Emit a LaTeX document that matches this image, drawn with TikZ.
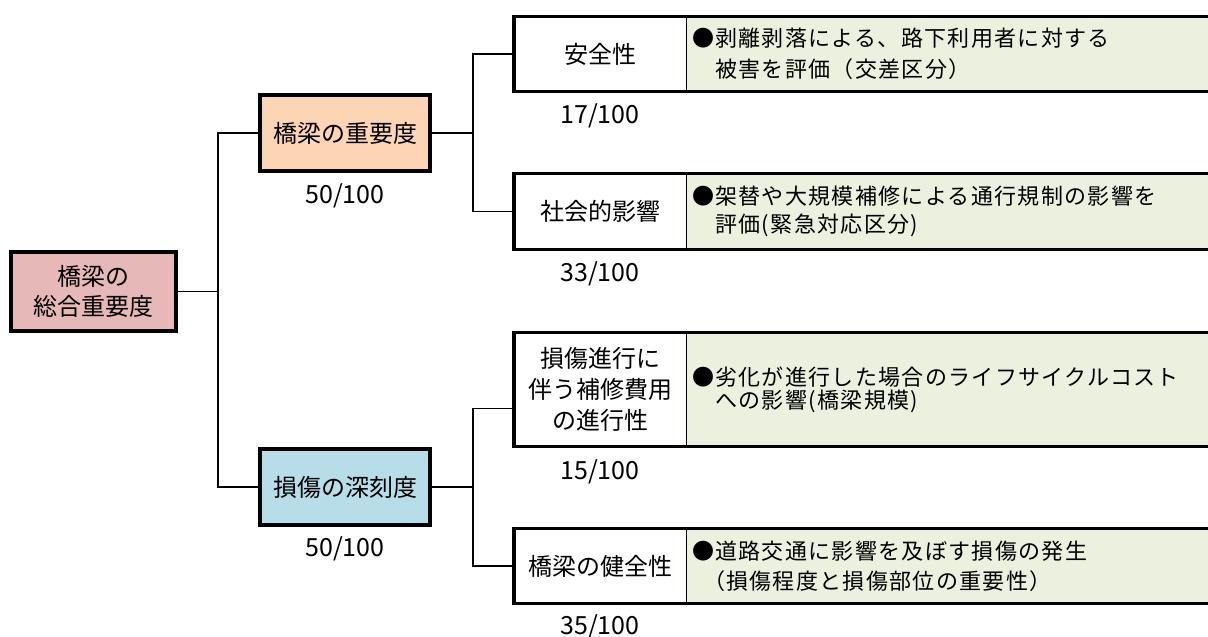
\documentclass[tikz,border=0pt]{standalone}
\usepackage{fontspec}
\setmainfont{Noto Sans CJK JP}
\newfontfamily\descfont[LetterSpace=6]{Noto Sans CJK JP}
\definecolor{rootpink}{RGB}{230,185,184}
\definecolor{midpeach}{RGB}{252,213,181}
\definecolor{midblue}{RGB}{183,222,232}
\definecolor{descgreen}{RGB}{235,240,223}

\begin{document}
\begin{tikzpicture}[x=1pt, y=-1pt, line width=1.5pt,
root node/.style={rectangle,draw,line width=3.5pt,fill=rootpink,minimum width=165pt,minimum height=79pt,inner sep=0pt,align=center,font=\fontsize{24}{30}\selectfont},
mid node/.style={rectangle,draw,line width=3.5pt,minimum width=170pt,minimum height=76pt,inner sep=0pt,font=\fontsize{24}{30}\selectfont},
item node/.style={rectangle,draw,fill=white,minimum width=173pt,inner sep=0pt,outer sep=0pt,align=center,font=\fontsize{24}{31}\selectfont},
desc node/.style={rectangle,fill=descgreen,anchor=west,minimum width=523pt,text width=513pt,inner xsep=5pt,inner ysep=0pt,outer sep=0pt,align=left,font=\descfont\fontsize{22}{30}\selectfont},
score/.style={inner sep=0pt,font=\fontsize{25}{30}\selectfont},
cell frame/.style={line width=3.5pt}]
\useasboundingbox (0,0) rectangle (1208,637);
\begin{scope}
\node[root node] (root) at (93.5,291.5) {橋梁の\\総合重要度};
\node[mid node,fill=midpeach] (m1) at (345,133) {橋梁の重要度};
\node[mid node,fill=midblue] (m2) at (345,487) {損傷の深刻度};
\node[score] (w1) at (345,196) {50/100};
\node[score] (w2) at (345,549) {50/100};
\end{scope}
\begin{scope}
\node[item node,minimum height=75pt] (s1) at (600.5,54) {安全性};
\node[desc node,minimum height=75pt,font=\descfont\fontsize{22}{31}\selectfont] (d1) at (s1.east) {●剥離剥落による、路下利用者に対する\\　被害を評価（交差区分）};
\node[item node,minimum height=76pt] (s2) at (600.5,211.5) {社会的影響};
\node[desc node,minimum height=76pt,font=\descfont\fontsize{22}{28}\selectfont] (d2) at (s2.east) {●架替や大規模補修による通行規制の影響を\\　評価(緊急対応区分)};
\node[item node,minimum height=114pt] (s3) at (600.5,389.5) {損傷進行に\\伴う補修費用\\の進行性};
\node[desc node,minimum height=114pt,font=\descfont\fontsize{22}{23}\selectfont] (d3) at (s3.east) {●劣化が進行した場合のライフサイクルコスト\\　への影響(橋梁規模)};
\node[item node,minimum height=75pt] (s4) at (600.5,566) {橋梁の健全性};
\node[desc node,minimum height=75pt] (d4) at (s4.east) {●道路交通に影響を及ぼす損傷の発生\\\hspace*{0.5em}（損傷程度と損傷部位の重要性）};
\node[score] (p1) at (600,116) {17/100};
\node[score] (p2) at (600,274) {33/100};
\node[score] (p3) at (600,472) {15/100};
\node[score] (p4) at (600,627) {35/100};
\end{scope}
\begin{scope}
\draw (root.east) -- ++(40,0) coordinate (j0);
\draw (m1.west) -| (j0) |- (m2.west);
\draw (m1.east) -- ++(41,0) coordinate (j1);
\draw (s1.west) -| (j1) |- (s2.west);
\draw (m2.east) -- ++(41,0) coordinate (j2);
\draw ([yshift=-19pt]s3.west) -| (j2) |- (s4.west);
\draw[cell frame] (d1.north east) -- (s1.north west) -- (s1.south west) -- (d1.south east);
\draw[cell frame] (d2.north east) -- (s2.north west) -- (s2.south west) -- (d2.south east);
\draw[cell frame] (d3.north east) -- (s3.north west) -- (s3.south west) -- (d3.south east);
\draw[cell frame] (d4.north east) -- (s4.north west) -- (s4.south west) -- (d4.south east);
\end{scope}
\end{tikzpicture}
\end{document}
